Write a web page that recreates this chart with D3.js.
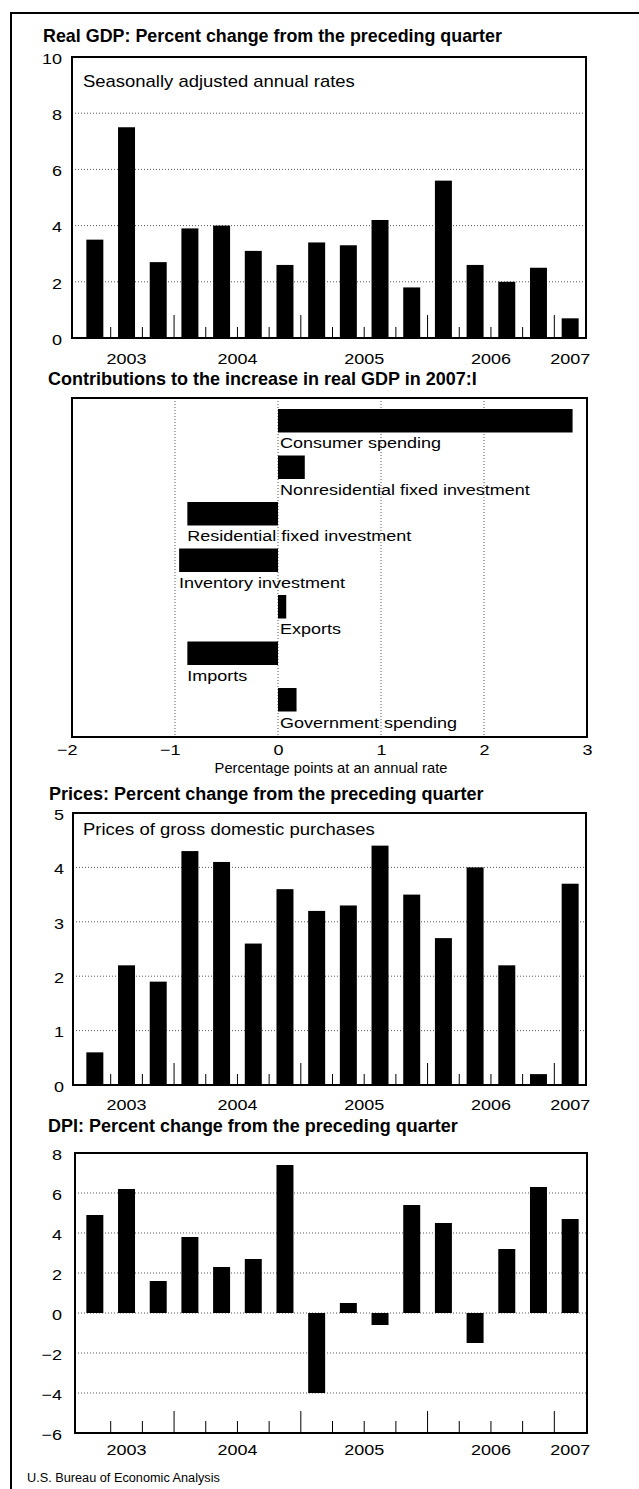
<!DOCTYPE html>
<html><head><meta charset="utf-8">
<script src="https://cdn.jsdelivr.net/npm/d3@7"></script>
<style>
body{margin:0;background:#fff}
svg{display:block}
text{font-family:"Liberation Sans",Arial,Helvetica,sans-serif;fill:#000}
</style></head>
<body><svg id="c" width="639" height="1489"></svg>
<script>
// ---------- data ----------
const quarters = ["2003:II","2003:III","2003:IV","2004:I","2004:II","2004:III","2004:IV",
  "2005:I","2005:II","2005:III","2005:IV","2006:I","2006:II","2006:III","2006:IV","2007:I"];
const years = ["2003","2004","2005","2006","2007"];
const gdpValues   = [3.5,7.5,2.7,3.9,4.0,3.1,2.6,3.4,3.3,4.2,1.8,5.6,2.6,2.0,2.5,0.7];
const priceValues = [0.6,2.2,1.9,4.3,4.1,2.6,3.6,3.2,3.3,4.4,3.5,2.7,4.0,2.2,0.2,3.7];
const dpiValues   = [4.9,6.2,1.6,3.8,2.3,2.7,7.4,-4.0,0.5,-0.6,5.4,4.5,-1.5,3.2,6.3,4.7];
const contribCategories = ["Consumer spending","Nonresidential fixed investment",
  "Residential fixed investment","Inventory investment","Exports","Imports","Government spending"];
const contribValues = [2.86,0.26,-0.88,-0.96,0.08,-0.88,0.18];
const gdpTicks = [0,2,4,6,8,10];
const priceTicks = [0,1,2,3,4,5];
const dpiTicks = [-6,-4,-2,0,2,4,6,8];
const contribTicks = [-2,-1,0,1,2,3];

// ---------- helpers ----------
const SX = 1.2;
const svg = d3.select("#c");
const fmt = d3.format("d");

function txt(g, x, y, s, o = {}) {
  const t = g.append("text")
    .attr("font-size", o.size || 15)
    .attr("font-weight", o.weight || "normal")
    .attr("text-anchor", o.anchor || "start")
    .text(s);
  let sx = o.sx || SX;
  if (o.width) sx = o.width / t.node().getComputedTextLength();
  t.attr("transform", `translate(${x},${y}) scale(${sx},1)`);
  return t;
}
function styleAxis(ax, size) {
  ax.attr("font-size", null).attr("font-family", null);
  ax.select(".domain").remove();
  ax.selectAll("text").attr("font-size", size || 15);
}

// frame
svg.append("path").attr("d", "M11,1489V13H639")
  .attr("fill", "none").attr("stroke", "#000").attr("stroke-width", 2);

// quarter band scale shared by the three bar panels
const xQ = d3.scaleBand().domain(quarters).range([79, 586])
  .paddingInner(0.464).paddingOuter(0.232);

function quarterPanel(c) {
  const g = svg.append("g");
  const y = d3.scaleLinear().domain(c.domain).range([c.bottom, c.top]);
  // dotted gridlines
  g.selectAll("line.grid")
    .data(c.ticks.filter(t => t !== c.domain[0] && t !== c.domain[1]))
    .join("line").attr("class", "grid")
    .attr("x1", c.left).attr("x2", c.right)
    .attr("y1", d => y(d)).attr("y2", d => y(d))
    .attr("stroke", "#444").attr("stroke-width", 0.9).attr("stroke-dasharray", "1,2");
  // bars
  g.selectAll("rect.bar").data(c.values).join("rect").attr("class", "bar")
    .attr("x", (d, i) => xQ(quarters[i])).attr("width", xQ.bandwidth())
    .attr("y", d => y(Math.max(0, d)))
    .attr("height", d => Math.abs(y(d) - y(0)))
    .attr("fill", "#000");
  // quarter tick marks
  const half = xQ.step() * xQ.paddingInner() / 2;
  g.selectAll("line.qt").data(quarters.slice(1)).join("line").attr("class", "qt")
    .attr("x1", q => xQ(q) - half).attr("x2", q => xQ(q) - half)
    .attr("y1", y(c.tickBase))
    .attr("y2", q => y(c.tickBase) - (q.endsWith(":I") ? c.tall : c.short))
    .attr("stroke", "#000").attr("stroke-width", 1);
  // box
  g.append("rect").attr("x", c.left).attr("y", c.top)
    .attr("width", c.right - c.left).attr("height", c.bottom - c.top)
    .attr("fill", "none").attr("stroke", "#000").attr("stroke-width", 2);
  // y axis
  const ax = g.append("g").attr("transform", `translate(${c.left},0)`)
    .call(d3.axisLeft(y).tickValues(c.ticks).tickSize(0)
      .tickPadding(c.left - c.labelRight).tickFormat(fmt));
  styleAxis(ax, 15);
  ax.selectAll("text")
    .attr("x", -(c.left - c.labelRight) / SX).attr("dy", "0.42em")
    .attr("transform", `scale(${SX},1)`);
  // year labels
  years.forEach(yr => {
    const qs = quarters.filter(q => q.startsWith(yr));
    const cx = d3.mean(qs, q => xQ(q) + xQ.bandwidth() / 2);
    txt(g, cx, c.yearBase, yr, {anchor: "middle"});
  });
  // titles
  txt(g, c.titleX, c.titleY, c.title, {size: 17.5, weight: "bold", width: c.titleW});
  if (c.sub) txt(g, 83, c.subY, c.sub, {size: 16, width: c.subW});
}

// ---------- panel 1: Real GDP ----------
quarterPanel({
  top: 57, bottom: 338, left: 72, right: 586, labelRight: 62,
  domain: [0, 10], ticks: gdpTicks, values: gdpValues, tickBase: 0, tall: 23, short: 11,
  yearBase: 364,
  title: "Real GDP: Percent change from the preceding quarter", titleX: 43, titleY: 42, titleW: 459,
  sub: "Seasonally adjusted annual rates", subY: 87, subW: 272
});

// ---------- panel 2: Contributions ----------
(function () {
  const left = 72, right = 587, top = 398, bottom = 737;
  const g = svg.append("g");
  const x = d3.scaleLinear().domain([-2, 3]).range([left, right]);
  const y = d3.scaleBand().domain(contribCategories).range([top + 11, bottom - 25.5])
    .paddingInner(0.495).paddingOuter(0);
  g.selectAll("line.grid").data(contribTicks.filter(t => t > -2 && t < 3)).join("line")
    .attr("class", "grid")
    .attr("x1", d => x(d)).attr("x2", d => x(d)).attr("y1", top).attr("y2", bottom)
    .attr("stroke", "#444").attr("stroke-width", 0.9).attr("stroke-dasharray", "1,2");
  g.selectAll("rect.bar").data(contribValues).join("rect").attr("class", "bar")
    .attr("x", d => Math.min(x(0), x(d))).attr("width", d => Math.abs(x(d) - x(0)))
    .attr("y", (d, i) => y(contribCategories[i])).attr("height", y.bandwidth())
    .attr("fill", "#000");
  contribValues.forEach((v, i) => {
    const lx = v >= 0 ? x(0) + 2 : x(v);
    txt(g, lx, y(contribCategories[i]) + y.bandwidth() + 16, contribCategories[i]);
  });
  g.append("rect").attr("x", left).attr("y", top).attr("width", right - left)
    .attr("height", bottom - top).attr("fill", "none").attr("stroke", "#000").attr("stroke-width", 2);
  const ax = g.append("g").attr("transform", `translate(0,${bottom})`)
    .call(d3.axisBottom(x).tickValues(contribTicks).tickSize(0).tickPadding(7).tickFormat(fmt));
  styleAxis(ax, 15);
  ax.selectAll("text").attr("transform", `scale(${SX},1)`)
    .each(function (d) {
      if (d < 0) d3.select(this).attr("text-anchor", "end").attr("x", 5 / SX);
    });
  txt(g, 331, 773, "Percentage points at an annual rate", {size: 14, anchor: "middle", width: 233});
  txt(g, 48, 385, "Contributions to the increase in real GDP in 2007:I",
    {size: 17.5, weight: "bold", width: 429});
})();

// ---------- panel 3: Prices ----------
quarterPanel({
  top: 813, bottom: 1085, left: 73, right: 586, labelRight: 64,
  domain: [0, 5], ticks: priceTicks, values: priceValues, tickBase: 0, tall: 22, short: 11,
  yearBase: 1110,
  title: "Prices: Percent change from the preceding quarter", titleX: 49, titleY: 800, titleW: 435,
  sub: "Prices of gross domestic purchases", subY: 835, subW: 292
});

// ---------- panel 4: DPI ----------
quarterPanel({
  top: 1153, bottom: 1433, left: 75, right: 587, labelRight: 62,
  domain: [-6, 8], ticks: dpiTicks, values: dpiValues, tickBase: -6, tall: 22, short: 12,
  yearBase: 1455,
  title: "DPI: Percent change from the preceding quarter", titleX: 48, titleY: 1132, titleW: 410
});

// source
txt(svg, 27, 1482, "U.S. Bureau of Economic Analysis", {size: 13.5, width: 193});
</script>
</body></html>
